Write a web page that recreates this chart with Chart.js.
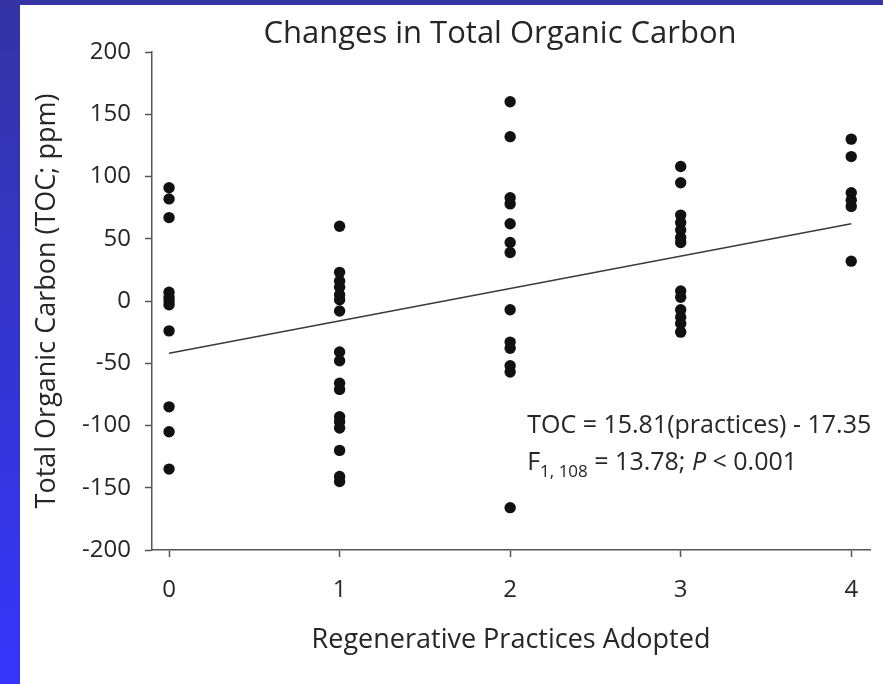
<!DOCTYPE html>
<html>
<head>
<meta charset="utf-8">
<script src="https://cdn.jsdelivr.net/npm/chart.js@4.4.1/dist/chart.umd.min.js"></script>
<style>
  html, body { margin: 0; padding: 0; }
  body {
    width: 883px; height: 684px; overflow: hidden;
    background: linear-gradient(to bottom, #3434a4 0%, #3535fb 100%);
  }
  .panel {
    position: absolute; left: 20px; top: 5px;
    width: 863px; height: 679px; background: #fff;
  }
</style>
</head>
<body>
<div class="panel"><canvas id="chart"></canvas></div>
<script>
// valeurs (TOC en ppm, par nombre de pratiques)
const practices = [0, 1, 2, 3, 4];
const toc0 = [91, 82, 67, 7, 3, 0, -3, -24, -85, -105, -135];
const toc1 = [60, 23, 16, 11, 5, 1, -8, -41, -48, -66, -71, -93, -97, -102, -120, -141, -145];
const toc2 = [160, 132, 83, 78, 62, 47, 39, -7, -33, -38, -52, -57, -166];
const toc3 = [108, 95, 69, 63, 57, 51, 47, 8, 3, -7, -13, -18, -25];
const toc4 = [130, 116, 87, 81, 76, 32];

// droite de régression telle que tracée
const fitX = [0, 4];
const fitY = [-42, 62];

const yTicks = [-200, -150, -100, -50, 0, 50, 100, 150, 200];

const chartTitle = 'Changes in Total Organic Carbon';
const xTitle = 'Regenerative Practices Adopted';
const yTitle = 'Total Organic Carbon (TOC; ppm)';

const FONT = "'Open Sans', sans-serif";
const TEXT = '#262626';
const AXIS = '#555';

const tocByPractice = [toc0, toc1, toc2, toc3, toc4];
const points = [];
practices.forEach((p, i) => {
    tocByPractice[i].forEach(v => points.push({ x: p, y: v }));
});
const fitPoints = fitX.map((x, i) => ({ x: x, y: fitY[i] }));

// titre + texte de l'équation
const textPlugin = {
    id: 'texts',
    afterDraw(chart) {
        const ctx = chart.ctx;
        const area = chart.chartArea;
        const xs = chart.scales.x;
        const ys = chart.scales.y;
        ctx.save();
        ctx.fillStyle = TEXT;
        ctx.textBaseline = 'middle';

        ctx.textAlign = 'center';
        ctx.font = '31px ' + FONT;
        ctx.fillText(chartTitle, (area.left + area.right) / 2 - 11, area.top - 18);

        ctx.textAlign = 'left';
        const x0 = xs.getPixelForValue(2.1);
        let y = ys.getPixelForValue(-100);
        ctx.font = '25px ' + FONT;
        ctx.fillText('TOC = 15.81(practices) - 17.35', x0, y);

        y = ys.getPixelForValue(-130);
        let x = x0;
        ctx.fillText('F', x, y);
        x += ctx.measureText('F').width;
        ctx.font = '17px ' + FONT;
        ctx.fillText('1, 108', x, y + 9);
        x += ctx.measureText('1, 108').width;
        ctx.font = '25px ' + FONT;
        ctx.fillText(' = 13.78; ', x, y);
        x += ctx.measureText(' = 13.78; ').width;
        ctx.font = 'italic 25px ' + FONT;
        ctx.fillText('P', x, y);
        x += ctx.measureText('P').width;
        ctx.font = '25px ' + FONT;
        ctx.fillText(' < 0.001', x, y);
        ctx.restore();
    }
};

new Chart(document.getElementById('chart'), {
    type: 'scatter',
    data: {
        datasets: [
            {
                type: 'line',
                data: fitPoints,
                borderColor: '#3a3a3a',
                borderWidth: 1.5,
                pointRadius: 0,
                fill: false
            },
            {
                data: points,
                backgroundColor: '#111',
                borderColor: '#111',
                pointRadius: 5.7,
                pointBorderWidth: 0
            }
        ]
    },
    options: {
        responsive: true,
        maintainAspectRatio: false,
        animation: false,
        layout: { padding: { top: 47, right: 13, bottom: 0, left: 0 } },
        plugins: {
            legend: { display: false },
            tooltip: { enabled: false }
        },
        scales: {
            x: {
                type: 'linear',
                min: -0.1,
                max: 4.11,
                afterBuildTicks: (scale) => { scale.ticks = practices.map(v => ({ value: v })); },
                afterFit: (scale) => { scale.height = 134; },
                grid: { drawOnChartArea: false, drawTicks: true, tickLength: 7, tickColor: AXIS, tickWidth: 1.5 },
                border: { color: AXIS, width: 1.5 },
                ticks: { color: TEXT, font: { family: FONT, size: 24 }, padding: 19 },
                title: {
                    display: true, text: xTitle, color: TEXT,
                    font: { family: FONT, size: 27 }, padding: { top: 0, bottom: 27 }
                }
            },
            y: {
                min: -200,
                max: 200,
                afterBuildTicks: (scale) => { scale.ticks = yTicks.map(v => ({ value: v })); },
                afterFit: (scale) => { scale.width = 132; },
                grid: { drawOnChartArea: false, drawTicks: true, tickLength: 7, tickColor: AXIS, tickWidth: 1.5 },
                border: { color: AXIS, width: 1.5 },
                ticks: { color: TEXT, font: { family: FONT, size: 24 }, padding: 14 },
                title: {
                    display: true, text: yTitle, color: TEXT,
                    font: { family: FONT, size: 27 }, padding: { top: 11, bottom: 0 }
                }
            }
        }
    },
    plugins: [textPlugin]
});
</script>
</body>
</html>
